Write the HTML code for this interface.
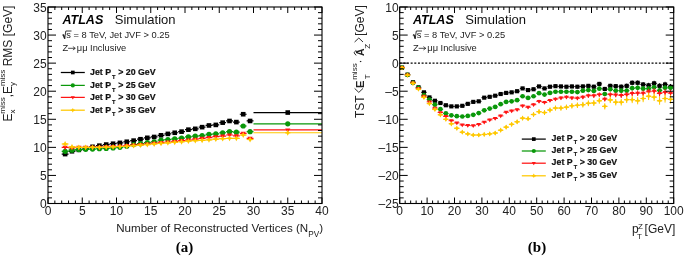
<!DOCTYPE html>
<html><head><meta charset="utf-8"><title>ATLAS plots</title>
<style>
html,body{margin:0;padding:0;background:#fff;width:685px;height:256px;overflow:hidden;}
svg{display:block;font-family:"Liberation Sans", sans-serif;will-change:transform;}
</style></head><body>
<svg width="685" height="256" viewBox="0 0 685 256">
<rect width="685" height="256" fill="#fff"/>
<path d="M61.70 154.09H68.55M68.55 151.29H75.40M75.40 149.88H82.25M82.25 148.76H89.10M89.10 146.80H95.95M95.95 145.67H102.80M102.80 144.55H109.65M109.65 143.71H116.50M116.50 142.87H123.35M123.35 141.74H130.20M130.20 140.62H137.05M137.05 139.22H143.90M143.90 137.81H150.75M150.75 136.97H157.60M157.60 135.29H164.45M164.45 133.88H171.30M171.30 132.76H178.15M178.15 131.64H185.00M185.00 129.67H191.85M191.85 128.83H198.70M198.70 127.15H205.55M205.55 125.46H212.40M212.40 124.90H219.25M219.25 122.65H226.10M226.10 120.97H232.95M232.95 122.09H239.80M239.80 114.23H246.65M246.65 120.97H253.50M253.50 112.55H322.00" stroke="#000000" stroke-width="1.2" fill="none"/>
<rect x="62.83" y="151.79" width="4.60" height="4.60" fill="#000000"/>
<rect x="69.67" y="148.99" width="4.60" height="4.60" fill="#000000"/>
<rect x="76.53" y="147.58" width="4.60" height="4.60" fill="#000000"/>
<rect x="83.38" y="146.46" width="4.60" height="4.60" fill="#000000"/>
<rect x="90.23" y="144.50" width="4.60" height="4.60" fill="#000000"/>
<rect x="97.08" y="143.37" width="4.60" height="4.60" fill="#000000"/>
<rect x="103.92" y="142.25" width="4.60" height="4.60" fill="#000000"/>
<rect x="110.78" y="141.41" width="4.60" height="4.60" fill="#000000"/>
<rect x="117.62" y="140.57" width="4.60" height="4.60" fill="#000000"/>
<rect x="124.47" y="139.44" width="4.60" height="4.60" fill="#000000"/>
<rect x="131.32" y="138.32" width="4.60" height="4.60" fill="#000000"/>
<rect x="138.18" y="136.92" width="4.60" height="4.60" fill="#000000"/>
<rect x="145.02" y="135.51" width="4.60" height="4.60" fill="#000000"/>
<rect x="151.88" y="134.67" width="4.60" height="4.60" fill="#000000"/>
<rect x="158.72" y="132.99" width="4.60" height="4.60" fill="#000000"/>
<rect x="165.57" y="131.58" width="4.60" height="4.60" fill="#000000"/>
<rect x="172.43" y="130.46" width="4.60" height="4.60" fill="#000000"/>
<rect x="179.27" y="129.34" width="4.60" height="4.60" fill="#000000"/>
<rect x="186.12" y="127.37" width="4.60" height="4.60" fill="#000000"/>
<rect x="192.97" y="126.53" width="4.60" height="4.60" fill="#000000"/>
<rect x="199.82" y="124.85" width="4.60" height="4.60" fill="#000000"/>
<rect x="206.67" y="123.16" width="4.60" height="4.60" fill="#000000"/>
<rect x="213.53" y="122.60" width="4.60" height="4.60" fill="#000000"/>
<rect x="220.37" y="120.35" width="4.60" height="4.60" fill="#000000"/>
<rect x="227.22" y="118.67" width="4.60" height="4.60" fill="#000000"/>
<rect x="234.07" y="119.79" width="4.60" height="4.60" fill="#000000"/>
<rect x="240.92" y="111.93" width="4.60" height="4.60" fill="#000000"/>
<rect x="247.78" y="118.67" width="4.60" height="4.60" fill="#000000"/>
<rect x="285.45" y="110.25" width="4.60" height="4.60" fill="#000000"/>
<path d="M61.70 151.29H68.55M68.55 150.16H75.40M75.40 149.60H82.25M82.25 149.32H89.10M89.10 149.04H95.95M95.95 148.76H102.80M102.80 148.48H109.65M109.65 147.92H116.50M116.50 147.36H123.35M123.35 146.23H130.20M130.20 144.55H137.05M137.05 143.71H143.90M143.90 142.59H150.75M150.75 141.74H157.60M157.60 140.06H164.45M164.45 139.50H171.30M171.30 138.94H178.15M178.15 138.09H185.00M185.00 136.97H191.85M191.85 136.13H198.70M198.70 135.57H205.55M205.55 134.44H212.40M212.40 133.88H219.25M219.25 132.76H226.10M226.10 131.64H232.95M232.95 132.20H239.80M239.80 126.02H246.65M246.65 131.64H253.50M253.50 123.78H322.00" stroke="#0a980a" stroke-width="1.2" fill="none"/>
<circle cx="65.12" cy="151.29" r="2.60" fill="#0a980a"/>
<circle cx="71.97" cy="150.16" r="2.60" fill="#0a980a"/>
<circle cx="78.83" cy="149.60" r="2.60" fill="#0a980a"/>
<circle cx="85.68" cy="149.32" r="2.60" fill="#0a980a"/>
<circle cx="92.53" cy="149.04" r="2.60" fill="#0a980a"/>
<circle cx="99.38" cy="148.76" r="2.60" fill="#0a980a"/>
<circle cx="106.22" cy="148.48" r="2.60" fill="#0a980a"/>
<circle cx="113.08" cy="147.92" r="2.60" fill="#0a980a"/>
<circle cx="119.92" cy="147.36" r="2.60" fill="#0a980a"/>
<circle cx="126.77" cy="146.23" r="2.60" fill="#0a980a"/>
<circle cx="133.62" cy="144.55" r="2.60" fill="#0a980a"/>
<circle cx="140.48" cy="143.71" r="2.60" fill="#0a980a"/>
<circle cx="147.32" cy="142.59" r="2.60" fill="#0a980a"/>
<circle cx="154.18" cy="141.74" r="2.60" fill="#0a980a"/>
<circle cx="161.02" cy="140.06" r="2.60" fill="#0a980a"/>
<circle cx="167.88" cy="139.50" r="2.60" fill="#0a980a"/>
<circle cx="174.73" cy="138.94" r="2.60" fill="#0a980a"/>
<circle cx="181.57" cy="138.09" r="2.60" fill="#0a980a"/>
<circle cx="188.42" cy="136.97" r="2.60" fill="#0a980a"/>
<circle cx="195.28" cy="136.13" r="2.60" fill="#0a980a"/>
<circle cx="202.12" cy="135.57" r="2.60" fill="#0a980a"/>
<circle cx="208.97" cy="134.44" r="2.60" fill="#0a980a"/>
<circle cx="215.83" cy="133.88" r="2.60" fill="#0a980a"/>
<circle cx="222.67" cy="132.76" r="2.60" fill="#0a980a"/>
<circle cx="229.53" cy="131.64" r="2.60" fill="#0a980a"/>
<circle cx="236.38" cy="132.20" r="2.60" fill="#0a980a"/>
<circle cx="243.22" cy="126.02" r="2.60" fill="#0a980a"/>
<circle cx="250.08" cy="131.64" r="2.60" fill="#0a980a"/>
<circle cx="287.75" cy="123.78" r="2.60" fill="#0a980a"/>
<path d="M61.70 147.36H68.55M68.55 147.92H75.40M75.40 147.36H82.25M82.25 147.36H89.10M89.10 147.36H95.95M95.95 147.36H102.80M102.80 146.80H109.65M109.65 146.51H116.50M116.50 146.23H123.35M123.35 145.67H130.20M130.20 145.11H137.05M137.05 144.55H143.90M143.90 143.99H150.75M150.75 143.43H157.60M157.60 142.59H164.45M164.45 142.02H171.30M171.30 141.46H178.15M178.15 140.62H185.00M185.00 140.06H191.85M191.85 139.22H198.70M198.70 138.37H205.55M205.55 137.53H212.40M212.40 136.69H219.25M219.25 136.13H226.10M226.10 135.01H232.95M232.95 135.85H239.80M239.80 133.32H246.65M246.65 138.37H253.50M253.50 129.95H322.00" stroke="#ff1414" stroke-width="1.2" fill="none"/>
<path d="M62.52 145.80L67.72 145.80L65.12 149.96Z" fill="#ff1414"/>
<path d="M69.38 146.36L74.57 146.36L71.97 150.52Z" fill="#ff1414"/>
<path d="M76.23 145.80L81.42 145.80L78.83 149.96Z" fill="#ff1414"/>
<path d="M83.08 145.80L88.28 145.80L85.68 149.96Z" fill="#ff1414"/>
<path d="M89.93 145.80L95.12 145.80L92.53 149.96Z" fill="#ff1414"/>
<path d="M96.78 145.80L101.97 145.80L99.38 149.96Z" fill="#ff1414"/>
<path d="M103.62 145.24L108.82 145.24L106.22 149.40Z" fill="#ff1414"/>
<path d="M110.48 144.95L115.67 144.95L113.08 149.11Z" fill="#ff1414"/>
<path d="M117.33 144.67L122.52 144.67L119.92 148.83Z" fill="#ff1414"/>
<path d="M124.17 144.11L129.38 144.11L126.77 148.27Z" fill="#ff1414"/>
<path d="M131.03 143.55L136.22 143.55L133.62 147.71Z" fill="#ff1414"/>
<path d="M137.88 142.99L143.08 142.99L140.48 147.15Z" fill="#ff1414"/>
<path d="M144.72 142.43L149.92 142.43L147.32 146.59Z" fill="#ff1414"/>
<path d="M151.58 141.87L156.78 141.87L154.18 146.03Z" fill="#ff1414"/>
<path d="M158.42 141.03L163.62 141.03L161.02 145.19Z" fill="#ff1414"/>
<path d="M165.28 140.46L170.47 140.46L167.88 144.62Z" fill="#ff1414"/>
<path d="M172.13 139.90L177.33 139.90L174.73 144.06Z" fill="#ff1414"/>
<path d="M178.97 139.06L184.17 139.06L181.57 143.22Z" fill="#ff1414"/>
<path d="M185.82 138.50L191.02 138.50L188.42 142.66Z" fill="#ff1414"/>
<path d="M192.68 137.66L197.88 137.66L195.28 141.82Z" fill="#ff1414"/>
<path d="M199.53 136.81L204.72 136.81L202.12 140.97Z" fill="#ff1414"/>
<path d="M206.38 135.97L211.57 135.97L208.97 140.13Z" fill="#ff1414"/>
<path d="M213.23 135.13L218.43 135.13L215.83 139.29Z" fill="#ff1414"/>
<path d="M220.07 134.57L225.27 134.57L222.67 138.73Z" fill="#ff1414"/>
<path d="M226.93 133.45L232.12 133.45L229.53 137.61Z" fill="#ff1414"/>
<path d="M233.78 134.29L238.97 134.29L236.38 138.45Z" fill="#ff1414"/>
<path d="M240.62 131.76L245.82 131.76L243.22 135.92Z" fill="#ff1414"/>
<path d="M247.48 136.81L252.68 136.81L250.08 140.97Z" fill="#ff1414"/>
<path d="M285.15 128.39L290.35 128.39L287.75 132.55Z" fill="#ff1414"/>
<path d="M61.70 143.99H68.55M68.55 146.80H75.40M75.40 147.36H82.25M82.25 147.36H89.10M89.10 147.36H95.95M95.95 147.36H102.80M102.80 147.08H109.65M109.65 146.80H116.50M116.50 146.51H123.35M123.35 146.23H130.20M130.20 145.67H137.05M137.05 145.11H143.90M143.90 144.55H150.75M150.75 143.99H157.60M157.60 143.43H164.45M164.45 142.87H171.30M171.30 142.30H178.15M178.15 141.74H185.00M185.00 141.18H191.85M191.85 140.62H198.70M198.70 140.34H205.55M205.55 139.78H212.40M212.40 139.22H219.25M219.25 138.66H226.10M226.10 138.37H232.95M232.95 138.37H239.80M239.80 135.01H246.65M246.65 139.50H253.50M253.50 132.76H322.00" stroke="#ffc800" stroke-width="1.2" fill="none"/>
<path d="M65.12 141.09L66.72 143.99L65.12 146.89L63.52 143.99Z" fill="#ffc800"/><path d="M62.52 143.99H67.72" stroke="#ffc800" stroke-width="1.3"/>
<path d="M71.97 143.90L73.57 146.80L71.97 149.70L70.38 146.80Z" fill="#ffc800"/><path d="M69.38 146.80H74.57" stroke="#ffc800" stroke-width="1.3"/>
<path d="M78.83 144.46L80.42 147.36L78.83 150.26L77.23 147.36Z" fill="#ffc800"/><path d="M76.23 147.36H81.42" stroke="#ffc800" stroke-width="1.3"/>
<path d="M85.68 144.46L87.28 147.36L85.68 150.26L84.08 147.36Z" fill="#ffc800"/><path d="M83.08 147.36H88.28" stroke="#ffc800" stroke-width="1.3"/>
<path d="M92.53 144.46L94.12 147.36L92.53 150.26L90.93 147.36Z" fill="#ffc800"/><path d="M89.93 147.36H95.12" stroke="#ffc800" stroke-width="1.3"/>
<path d="M99.38 144.46L100.97 147.36L99.38 150.26L97.78 147.36Z" fill="#ffc800"/><path d="M96.78 147.36H101.97" stroke="#ffc800" stroke-width="1.3"/>
<path d="M106.22 144.18L107.82 147.08L106.22 149.98L104.62 147.08Z" fill="#ffc800"/><path d="M103.62 147.08H108.82" stroke="#ffc800" stroke-width="1.3"/>
<path d="M113.08 143.90L114.67 146.80L113.08 149.70L111.48 146.80Z" fill="#ffc800"/><path d="M110.48 146.80H115.67" stroke="#ffc800" stroke-width="1.3"/>
<path d="M119.92 143.61L121.52 146.51L119.92 149.41L118.33 146.51Z" fill="#ffc800"/><path d="M117.33 146.51H122.52" stroke="#ffc800" stroke-width="1.3"/>
<path d="M126.77 143.33L128.38 146.23L126.77 149.13L125.17 146.23Z" fill="#ffc800"/><path d="M124.17 146.23H129.38" stroke="#ffc800" stroke-width="1.3"/>
<path d="M133.62 142.77L135.22 145.67L133.62 148.57L132.03 145.67Z" fill="#ffc800"/><path d="M131.03 145.67H136.22" stroke="#ffc800" stroke-width="1.3"/>
<path d="M140.48 142.21L142.08 145.11L140.48 148.01L138.88 145.11Z" fill="#ffc800"/><path d="M137.88 145.11H143.08" stroke="#ffc800" stroke-width="1.3"/>
<path d="M147.32 141.65L148.92 144.55L147.32 147.45L145.72 144.55Z" fill="#ffc800"/><path d="M144.72 144.55H149.92" stroke="#ffc800" stroke-width="1.3"/>
<path d="M154.18 141.09L155.78 143.99L154.18 146.89L152.58 143.99Z" fill="#ffc800"/><path d="M151.58 143.99H156.78" stroke="#ffc800" stroke-width="1.3"/>
<path d="M161.02 140.53L162.62 143.43L161.02 146.33L159.42 143.43Z" fill="#ffc800"/><path d="M158.42 143.43H163.62" stroke="#ffc800" stroke-width="1.3"/>
<path d="M167.88 139.97L169.47 142.87L167.88 145.77L166.28 142.87Z" fill="#ffc800"/><path d="M165.28 142.87H170.47" stroke="#ffc800" stroke-width="1.3"/>
<path d="M174.73 139.40L176.33 142.30L174.73 145.20L173.13 142.30Z" fill="#ffc800"/><path d="M172.13 142.30H177.33" stroke="#ffc800" stroke-width="1.3"/>
<path d="M181.57 138.84L183.17 141.74L181.57 144.64L179.97 141.74Z" fill="#ffc800"/><path d="M178.97 141.74H184.17" stroke="#ffc800" stroke-width="1.3"/>
<path d="M188.42 138.28L190.02 141.18L188.42 144.08L186.82 141.18Z" fill="#ffc800"/><path d="M185.82 141.18H191.02" stroke="#ffc800" stroke-width="1.3"/>
<path d="M195.28 137.72L196.88 140.62L195.28 143.52L193.68 140.62Z" fill="#ffc800"/><path d="M192.68 140.62H197.88" stroke="#ffc800" stroke-width="1.3"/>
<path d="M202.12 137.44L203.72 140.34L202.12 143.24L200.53 140.34Z" fill="#ffc800"/><path d="M199.53 140.34H204.72" stroke="#ffc800" stroke-width="1.3"/>
<path d="M208.97 136.88L210.57 139.78L208.97 142.68L207.38 139.78Z" fill="#ffc800"/><path d="M206.38 139.78H211.57" stroke="#ffc800" stroke-width="1.3"/>
<path d="M215.83 136.32L217.43 139.22L215.83 142.12L214.23 139.22Z" fill="#ffc800"/><path d="M213.23 139.22H218.43" stroke="#ffc800" stroke-width="1.3"/>
<path d="M222.67 135.75L224.27 138.66L222.67 141.56L221.07 138.66Z" fill="#ffc800"/><path d="M220.07 138.66H225.27" stroke="#ffc800" stroke-width="1.3"/>
<path d="M229.53 135.47L231.12 138.37L229.53 141.27L227.93 138.37Z" fill="#ffc800"/><path d="M226.93 138.37H232.12" stroke="#ffc800" stroke-width="1.3"/>
<path d="M236.38 135.47L237.97 138.37L236.38 141.27L234.78 138.37Z" fill="#ffc800"/><path d="M233.78 138.37H238.97" stroke="#ffc800" stroke-width="1.3"/>
<path d="M243.22 132.11L244.82 135.01L243.22 137.91L241.62 135.01Z" fill="#ffc800"/><path d="M240.62 135.01H245.82" stroke="#ffc800" stroke-width="1.3"/>
<path d="M250.08 136.60L251.68 139.50L250.08 142.40L248.48 139.50Z" fill="#ffc800"/><path d="M247.48 139.50H252.68" stroke="#ffc800" stroke-width="1.3"/>
<path d="M287.75 129.86L289.35 132.76L287.75 135.66L286.15 132.76Z" fill="#ffc800"/><path d="M285.15 132.76H290.35" stroke="#ffc800" stroke-width="1.3"/>
<path d="M399.70 63.14H673.70" stroke="#000" stroke-width="1.2" stroke-dasharray="2 1.65"/>
<path d="M399.29 67.63H404.77M402.03 66.51V68.76M404.77 74.65H410.25M407.51 73.53V75.78M410.25 82.23H415.73M412.99 81.10V83.36M415.73 87.28H421.21M418.47 86.15V88.42M421.21 92.34H426.69M423.95 91.20V93.47M426.69 97.39H432.17M429.43 96.25V98.53M432.17 100.76H437.65M434.91 99.61V101.91M437.65 103.00H443.13M440.39 101.84V104.16M443.13 105.25H448.61M445.87 104.08V106.42M448.61 106.37H454.09M451.35 105.19V107.56M454.09 106.37H459.57M456.83 105.18V107.57M459.57 105.81H465.05M462.31 104.60V107.02M465.05 103.85H470.53M467.79 102.62V105.07M470.53 101.88H476.01M473.27 100.64V103.13M476.01 101.32H481.49M478.75 100.06V102.58M481.49 97.67H486.97M484.23 96.39V98.95M486.97 96.83H492.45M489.71 95.52V98.13M492.45 95.71H497.93M495.19 94.38V97.03M497.93 94.02H503.41M500.67 92.67V95.37M503.41 92.90H508.89M506.15 91.52V94.28M508.89 92.34H514.37M511.63 90.93V93.74M514.37 91.21H519.85M517.11 89.78V92.65M519.85 88.41H525.33M522.59 86.95V89.87M525.33 90.09H530.81M528.07 88.60V91.58M530.81 89.25H536.29M533.55 87.72V90.77M536.29 86.44H541.77M539.03 84.88V88.00M541.77 88.41H547.25M544.51 86.81V90.00M547.25 86.72H552.73M549.99 85.09V88.35M552.73 86.16H558.21M555.47 84.49V87.83M558.21 86.44H563.69M560.95 84.74V88.15M563.69 86.72H569.17M566.43 84.98V88.47M569.17 86.44H574.65M571.91 84.65V88.23M574.65 86.72H580.13M577.39 84.89V88.55M580.13 86.44H585.61M582.87 84.57V88.32M585.61 85.88H591.09M588.35 83.96V87.80M591.09 86.72H596.57M593.83 84.75V88.69M596.57 83.92H602.05M599.31 81.90V85.93M602.05 88.97H607.53M604.79 86.90V91.04M607.53 85.88H613.01M610.27 83.76V88.00M613.01 86.16H618.49M615.75 83.99V88.33M618.49 86.72H623.97M621.23 84.50V88.95M623.97 85.88H629.45M626.71 83.60V88.16M629.45 82.79H634.93M632.19 80.46V85.13M634.93 82.79H640.41M637.67 80.40V85.19M640.41 84.48H645.89M643.15 82.02V86.93M645.89 85.32H651.37M648.63 82.81V87.83M651.37 83.35H656.85M654.11 80.78V85.93M656.85 85.88H662.33M659.59 83.24V88.52M662.33 84.48H667.81M665.07 81.77V87.18M667.81 86.72H673.29M670.55 83.95V89.49" stroke="#000000" stroke-width="1.0" fill="none"/>
<rect x="399.96" y="65.56" width="4.14" height="4.14" fill="#000000"/>
<rect x="405.44" y="72.58" width="4.14" height="4.14" fill="#000000"/>
<rect x="410.92" y="80.16" width="4.14" height="4.14" fill="#000000"/>
<rect x="416.40" y="85.21" width="4.14" height="4.14" fill="#000000"/>
<rect x="421.88" y="90.27" width="4.14" height="4.14" fill="#000000"/>
<rect x="427.36" y="95.32" width="4.14" height="4.14" fill="#000000"/>
<rect x="432.84" y="98.69" width="4.14" height="4.14" fill="#000000"/>
<rect x="438.32" y="100.93" width="4.14" height="4.14" fill="#000000"/>
<rect x="443.80" y="103.18" width="4.14" height="4.14" fill="#000000"/>
<rect x="449.28" y="104.30" width="4.14" height="4.14" fill="#000000"/>
<rect x="454.76" y="104.30" width="4.14" height="4.14" fill="#000000"/>
<rect x="460.24" y="103.74" width="4.14" height="4.14" fill="#000000"/>
<rect x="465.72" y="101.78" width="4.14" height="4.14" fill="#000000"/>
<rect x="471.20" y="99.81" width="4.14" height="4.14" fill="#000000"/>
<rect x="476.68" y="99.25" width="4.14" height="4.14" fill="#000000"/>
<rect x="482.16" y="95.60" width="4.14" height="4.14" fill="#000000"/>
<rect x="487.64" y="94.76" width="4.14" height="4.14" fill="#000000"/>
<rect x="493.12" y="93.64" width="4.14" height="4.14" fill="#000000"/>
<rect x="498.60" y="91.95" width="4.14" height="4.14" fill="#000000"/>
<rect x="504.08" y="90.83" width="4.14" height="4.14" fill="#000000"/>
<rect x="509.56" y="90.27" width="4.14" height="4.14" fill="#000000"/>
<rect x="515.04" y="89.14" width="4.14" height="4.14" fill="#000000"/>
<rect x="520.52" y="86.34" width="4.14" height="4.14" fill="#000000"/>
<rect x="526.00" y="88.02" width="4.14" height="4.14" fill="#000000"/>
<rect x="531.48" y="87.18" width="4.14" height="4.14" fill="#000000"/>
<rect x="536.96" y="84.37" width="4.14" height="4.14" fill="#000000"/>
<rect x="542.44" y="86.34" width="4.14" height="4.14" fill="#000000"/>
<rect x="547.92" y="84.65" width="4.14" height="4.14" fill="#000000"/>
<rect x="553.40" y="84.09" width="4.14" height="4.14" fill="#000000"/>
<rect x="558.88" y="84.37" width="4.14" height="4.14" fill="#000000"/>
<rect x="564.36" y="84.65" width="4.14" height="4.14" fill="#000000"/>
<rect x="569.84" y="84.37" width="4.14" height="4.14" fill="#000000"/>
<rect x="575.32" y="84.65" width="4.14" height="4.14" fill="#000000"/>
<rect x="580.80" y="84.37" width="4.14" height="4.14" fill="#000000"/>
<rect x="586.28" y="83.81" width="4.14" height="4.14" fill="#000000"/>
<rect x="591.76" y="84.65" width="4.14" height="4.14" fill="#000000"/>
<rect x="597.24" y="81.85" width="4.14" height="4.14" fill="#000000"/>
<rect x="602.72" y="86.90" width="4.14" height="4.14" fill="#000000"/>
<rect x="608.20" y="83.81" width="4.14" height="4.14" fill="#000000"/>
<rect x="613.68" y="84.09" width="4.14" height="4.14" fill="#000000"/>
<rect x="619.16" y="84.65" width="4.14" height="4.14" fill="#000000"/>
<rect x="624.64" y="83.81" width="4.14" height="4.14" fill="#000000"/>
<rect x="630.12" y="80.72" width="4.14" height="4.14" fill="#000000"/>
<rect x="635.60" y="80.72" width="4.14" height="4.14" fill="#000000"/>
<rect x="641.08" y="82.41" width="4.14" height="4.14" fill="#000000"/>
<rect x="646.56" y="83.25" width="4.14" height="4.14" fill="#000000"/>
<rect x="652.04" y="81.28" width="4.14" height="4.14" fill="#000000"/>
<rect x="657.52" y="83.81" width="4.14" height="4.14" fill="#000000"/>
<rect x="663.00" y="82.41" width="4.14" height="4.14" fill="#000000"/>
<rect x="668.48" y="84.65" width="4.14" height="4.14" fill="#000000"/>
<path d="M399.29 67.63H404.77M402.03 66.51V68.76M404.77 74.93H410.25M407.51 73.81V76.06M410.25 82.79H415.73M412.99 81.67V83.92M415.73 87.85H421.21M418.47 86.71V88.98M421.21 95.14H426.69M423.95 94.01V96.28M426.69 99.64H432.17M429.43 98.49V100.78M432.17 104.69H437.65M434.91 103.54V105.84M437.65 109.18H443.13M440.39 108.02V110.34M443.13 113.39H448.61M445.87 112.22V114.56M448.61 115.36H454.09M451.35 114.17V116.54M454.09 116.20H459.57M456.83 115.00V117.39M459.57 116.48H465.05M462.31 115.27V117.69M465.05 115.92H470.53M467.79 114.69V117.14M470.53 114.79H476.01M473.27 113.55V116.04M476.01 113.11H481.49M478.75 111.85V114.37M481.49 110.30H486.97M484.23 109.02V111.59M486.97 108.62H492.45M489.71 107.31V109.92M492.45 106.93H497.93M495.19 105.61V108.26M497.93 104.13H503.41M500.67 102.78V105.48M503.41 101.88H508.89M506.15 100.50V103.26M508.89 101.32H514.37M511.63 99.92V102.72M514.37 100.20H519.85M517.11 98.77V101.63M519.85 96.27H525.33M522.59 94.81V97.73M525.33 97.95H530.81M528.07 96.46V99.44M530.81 96.27H536.29M533.55 94.74V97.79M536.29 93.18H541.77M539.03 91.62V94.74M541.77 94.58H547.25M544.51 92.99V96.18M547.25 92.90H552.73M549.99 91.27V94.53M552.73 91.78H558.21M555.47 90.11V93.44M558.21 91.78H563.69M560.95 90.07V93.48M563.69 91.78H569.17M566.43 90.03V93.52M569.17 91.78H574.65M571.91 89.99V93.56M574.65 92.06H580.13M577.39 90.23V93.89M580.13 90.65H585.61M582.87 88.78V92.53M585.61 90.09H591.09M588.35 88.17V92.01M591.09 90.93H596.57M593.83 88.97V92.90M596.57 88.69H602.05M599.31 86.67V90.70M602.05 94.02H607.53M604.79 91.95V96.09M607.53 89.25H613.01M610.27 87.13V91.37M613.01 90.65H618.49M615.75 88.48V92.82M618.49 90.65H623.97M621.23 88.43V92.88M623.97 90.65H629.45M626.71 88.37V92.93M629.45 88.13H634.93M632.19 85.79V90.46M634.93 87.85H640.41M637.67 85.45V90.24M640.41 88.69H645.89M643.15 86.24V91.14M645.89 88.69H651.37M648.63 86.17V91.20M651.37 87.28H656.85M654.11 84.71V89.86M656.85 90.37H662.33M659.59 87.73V93.01M662.33 87.85H667.81M665.07 85.14V90.55M667.81 87.85H673.29M670.55 85.08V90.61" stroke="#0a980a" stroke-width="1.0" fill="none"/>
<circle cx="402.03" cy="67.63" r="2.34" fill="#0a980a"/>
<circle cx="407.51" cy="74.93" r="2.34" fill="#0a980a"/>
<circle cx="412.99" cy="82.79" r="2.34" fill="#0a980a"/>
<circle cx="418.47" cy="87.85" r="2.34" fill="#0a980a"/>
<circle cx="423.95" cy="95.14" r="2.34" fill="#0a980a"/>
<circle cx="429.43" cy="99.64" r="2.34" fill="#0a980a"/>
<circle cx="434.91" cy="104.69" r="2.34" fill="#0a980a"/>
<circle cx="440.39" cy="109.18" r="2.34" fill="#0a980a"/>
<circle cx="445.87" cy="113.39" r="2.34" fill="#0a980a"/>
<circle cx="451.35" cy="115.36" r="2.34" fill="#0a980a"/>
<circle cx="456.83" cy="116.20" r="2.34" fill="#0a980a"/>
<circle cx="462.31" cy="116.48" r="2.34" fill="#0a980a"/>
<circle cx="467.79" cy="115.92" r="2.34" fill="#0a980a"/>
<circle cx="473.27" cy="114.79" r="2.34" fill="#0a980a"/>
<circle cx="478.75" cy="113.11" r="2.34" fill="#0a980a"/>
<circle cx="484.23" cy="110.30" r="2.34" fill="#0a980a"/>
<circle cx="489.71" cy="108.62" r="2.34" fill="#0a980a"/>
<circle cx="495.19" cy="106.93" r="2.34" fill="#0a980a"/>
<circle cx="500.67" cy="104.13" r="2.34" fill="#0a980a"/>
<circle cx="506.15" cy="101.88" r="2.34" fill="#0a980a"/>
<circle cx="511.63" cy="101.32" r="2.34" fill="#0a980a"/>
<circle cx="517.11" cy="100.20" r="2.34" fill="#0a980a"/>
<circle cx="522.59" cy="96.27" r="2.34" fill="#0a980a"/>
<circle cx="528.07" cy="97.95" r="2.34" fill="#0a980a"/>
<circle cx="533.55" cy="96.27" r="2.34" fill="#0a980a"/>
<circle cx="539.03" cy="93.18" r="2.34" fill="#0a980a"/>
<circle cx="544.51" cy="94.58" r="2.34" fill="#0a980a"/>
<circle cx="549.99" cy="92.90" r="2.34" fill="#0a980a"/>
<circle cx="555.47" cy="91.78" r="2.34" fill="#0a980a"/>
<circle cx="560.95" cy="91.78" r="2.34" fill="#0a980a"/>
<circle cx="566.43" cy="91.78" r="2.34" fill="#0a980a"/>
<circle cx="571.91" cy="91.78" r="2.34" fill="#0a980a"/>
<circle cx="577.39" cy="92.06" r="2.34" fill="#0a980a"/>
<circle cx="582.87" cy="90.65" r="2.34" fill="#0a980a"/>
<circle cx="588.35" cy="90.09" r="2.34" fill="#0a980a"/>
<circle cx="593.83" cy="90.93" r="2.34" fill="#0a980a"/>
<circle cx="599.31" cy="88.69" r="2.34" fill="#0a980a"/>
<circle cx="604.79" cy="94.02" r="2.34" fill="#0a980a"/>
<circle cx="610.27" cy="89.25" r="2.34" fill="#0a980a"/>
<circle cx="615.75" cy="90.65" r="2.34" fill="#0a980a"/>
<circle cx="621.23" cy="90.65" r="2.34" fill="#0a980a"/>
<circle cx="626.71" cy="90.65" r="2.34" fill="#0a980a"/>
<circle cx="632.19" cy="88.13" r="2.34" fill="#0a980a"/>
<circle cx="637.67" cy="87.85" r="2.34" fill="#0a980a"/>
<circle cx="643.15" cy="88.69" r="2.34" fill="#0a980a"/>
<circle cx="648.63" cy="88.69" r="2.34" fill="#0a980a"/>
<circle cx="654.11" cy="87.28" r="2.34" fill="#0a980a"/>
<circle cx="659.59" cy="90.37" r="2.34" fill="#0a980a"/>
<circle cx="665.07" cy="87.85" r="2.34" fill="#0a980a"/>
<circle cx="670.55" cy="87.85" r="2.34" fill="#0a980a"/>
<path d="M399.29 67.63H404.77M402.03 66.79V68.48M404.77 74.93H410.25M407.51 74.09V75.78M410.25 82.79H415.73M412.99 81.94V83.64M415.73 88.41H421.21M418.47 87.55V89.26M421.21 96.27H426.69M423.95 95.41V97.13M426.69 101.88H432.17M429.43 101.01V102.75M432.17 108.06H437.65M434.91 107.17V108.94M437.65 112.55H443.13M440.39 111.65V113.45M443.13 116.48H448.61M445.87 115.56V117.39M448.61 120.69H454.09M451.35 119.76V121.62M454.09 122.94H459.57M456.83 121.98V123.89M459.57 124.90H465.05M462.31 123.93V125.87M465.05 125.46H470.53M467.79 124.46V126.46M470.53 125.74H476.01M473.27 124.72V126.77M476.01 124.34H481.49M478.75 123.29V125.39M481.49 122.09H486.97M484.23 121.01V123.18M486.97 119.85H492.45M489.71 118.73V120.96M492.45 118.44H497.93M495.19 117.29V119.59M497.93 115.92H503.41M500.67 114.73V117.10M503.41 112.27H508.89M506.15 111.04V113.49M508.89 110.86H514.37M511.63 109.60V112.13M514.37 109.74H519.85M517.11 108.44V111.05M519.85 105.81H525.33M522.59 104.46V107.16M525.33 107.22H530.81M528.07 105.82V108.61M530.81 104.69H536.29M533.55 103.24V106.13M536.29 101.32H541.77M539.03 99.82V102.82M541.77 102.44H547.25M544.51 100.90V103.99M547.25 100.48H552.73M549.99 98.88V102.08M552.73 99.07H558.21M555.47 97.42V100.73M558.21 97.95H563.69M560.95 96.23V99.67M563.69 97.11H569.17M566.43 95.33V98.89M569.17 97.95H574.65M571.91 96.11V99.79M574.65 98.23H580.13M577.39 96.33V100.14M580.13 97.11H585.61M582.87 95.14V99.08M585.61 95.71H591.09M588.35 93.67V97.75M591.09 95.71H596.57M593.83 93.60V97.82M596.57 94.58H602.05M599.31 92.40V96.77M602.05 99.07H607.53M604.79 96.82V101.33M607.53 94.58H613.01M610.27 92.25V96.92M613.01 94.86H618.49M615.75 92.45V97.28M618.49 95.42H623.97M621.23 92.93V97.92M623.97 94.58H629.45M626.71 92.01V97.16M629.45 93.46H634.93M632.19 90.80V96.12M634.93 93.18H640.41M637.67 90.43V95.93M640.41 93.18H645.89M643.15 90.34V96.02M645.89 91.78H651.37M648.63 88.85V94.70M651.37 91.21H656.85M654.11 88.19V94.23M656.85 93.46H662.33M659.59 90.34V96.58M662.33 92.34H667.81M665.07 89.13V95.55M667.81 93.18H673.29M670.55 89.87V96.49" stroke="#ff1414" stroke-width="1.0" fill="none"/>
<path d="M399.69 66.23L404.37 66.23L402.03 69.97Z" fill="#ff1414"/>
<path d="M405.17 73.53L409.85 73.53L407.51 77.27Z" fill="#ff1414"/>
<path d="M410.65 81.39L415.33 81.39L412.99 85.13Z" fill="#ff1414"/>
<path d="M416.13 87.00L420.81 87.00L418.47 90.75Z" fill="#ff1414"/>
<path d="M421.61 94.86L426.29 94.86L423.95 98.61Z" fill="#ff1414"/>
<path d="M427.09 100.48L431.77 100.48L429.43 104.22Z" fill="#ff1414"/>
<path d="M432.57 106.65L437.25 106.65L434.91 110.40Z" fill="#ff1414"/>
<path d="M438.05 111.14L442.73 111.14L440.39 114.89Z" fill="#ff1414"/>
<path d="M443.53 115.07L448.21 115.07L445.87 118.82Z" fill="#ff1414"/>
<path d="M449.01 119.29L453.69 119.29L451.35 123.03Z" fill="#ff1414"/>
<path d="M454.49 121.53L459.17 121.53L456.83 125.28Z" fill="#ff1414"/>
<path d="M459.97 123.50L464.65 123.50L462.31 127.24Z" fill="#ff1414"/>
<path d="M465.45 124.06L470.13 124.06L467.79 127.80Z" fill="#ff1414"/>
<path d="M470.93 124.34L475.61 124.34L473.27 128.08Z" fill="#ff1414"/>
<path d="M476.41 122.93L481.09 122.93L478.75 126.68Z" fill="#ff1414"/>
<path d="M481.89 120.69L486.57 120.69L484.23 124.43Z" fill="#ff1414"/>
<path d="M487.37 118.44L492.05 118.44L489.71 122.19Z" fill="#ff1414"/>
<path d="M492.85 117.04L497.53 117.04L495.19 120.78Z" fill="#ff1414"/>
<path d="M498.33 114.51L503.01 114.51L500.67 118.26Z" fill="#ff1414"/>
<path d="M503.81 110.86L508.49 110.86L506.15 114.61Z" fill="#ff1414"/>
<path d="M509.29 109.46L513.97 109.46L511.63 113.20Z" fill="#ff1414"/>
<path d="M514.77 108.34L519.45 108.34L517.11 112.08Z" fill="#ff1414"/>
<path d="M520.25 104.41L524.93 104.41L522.59 108.15Z" fill="#ff1414"/>
<path d="M525.73 105.81L530.41 105.81L528.07 109.56Z" fill="#ff1414"/>
<path d="M531.21 103.28L535.89 103.28L533.55 107.03Z" fill="#ff1414"/>
<path d="M536.69 99.92L541.37 99.92L539.03 103.66Z" fill="#ff1414"/>
<path d="M542.17 101.04L546.85 101.04L544.51 104.78Z" fill="#ff1414"/>
<path d="M547.65 99.07L552.33 99.07L549.99 102.82Z" fill="#ff1414"/>
<path d="M553.13 97.67L557.81 97.67L555.47 101.41Z" fill="#ff1414"/>
<path d="M558.61 96.55L563.29 96.55L560.95 100.29Z" fill="#ff1414"/>
<path d="M564.09 95.71L568.77 95.71L566.43 99.45Z" fill="#ff1414"/>
<path d="M569.57 96.55L574.25 96.55L571.91 100.29Z" fill="#ff1414"/>
<path d="M575.05 96.83L579.73 96.83L577.39 100.57Z" fill="#ff1414"/>
<path d="M580.53 95.71L585.21 95.71L582.87 99.45Z" fill="#ff1414"/>
<path d="M586.01 94.30L590.69 94.30L588.35 98.05Z" fill="#ff1414"/>
<path d="M591.49 94.30L596.17 94.30L593.83 98.05Z" fill="#ff1414"/>
<path d="M596.97 93.18L601.65 93.18L599.31 96.92Z" fill="#ff1414"/>
<path d="M602.45 97.67L607.13 97.67L604.79 101.41Z" fill="#ff1414"/>
<path d="M607.93 93.18L612.61 93.18L610.27 96.92Z" fill="#ff1414"/>
<path d="M613.41 93.46L618.09 93.46L615.75 97.20Z" fill="#ff1414"/>
<path d="M618.89 94.02L623.57 94.02L621.23 97.77Z" fill="#ff1414"/>
<path d="M624.37 93.18L629.05 93.18L626.71 96.92Z" fill="#ff1414"/>
<path d="M629.85 92.06L634.53 92.06L632.19 95.80Z" fill="#ff1414"/>
<path d="M635.33 91.78L640.01 91.78L637.67 95.52Z" fill="#ff1414"/>
<path d="M640.81 91.78L645.49 91.78L643.15 95.52Z" fill="#ff1414"/>
<path d="M646.29 90.37L650.97 90.37L648.63 94.12Z" fill="#ff1414"/>
<path d="M651.77 89.81L656.45 89.81L654.11 93.55Z" fill="#ff1414"/>
<path d="M657.25 92.06L661.93 92.06L659.59 95.80Z" fill="#ff1414"/>
<path d="M662.73 90.93L667.41 90.93L665.07 94.68Z" fill="#ff1414"/>
<path d="M668.21 91.78L672.89 91.78L670.55 95.52Z" fill="#ff1414"/>
<path d="M399.29 67.92H404.77M402.03 66.23V69.60M404.77 75.21H410.25M407.51 73.53V76.90M410.25 83.35H415.73M412.99 81.66V85.04M415.73 89.25H421.21M418.47 87.55V90.95M421.21 97.39H426.69M423.95 95.69V99.09M426.69 103.57H432.17M429.43 101.85V105.28M432.17 109.46H437.65M434.91 107.73V111.19M437.65 114.79H443.13M440.39 113.05V116.53M443.13 119.29H448.61M445.87 117.53V121.04M448.61 123.78H454.09M451.35 122.00V125.55M454.09 128.27H459.57M456.83 126.47V130.06M459.57 132.20H465.05M462.31 130.38V134.01M465.05 133.88H470.53M467.79 132.04V135.72M470.53 135.01H476.01M473.27 133.14V136.87M476.01 135.01H481.49M478.75 133.11V136.90M481.49 134.44H486.97M484.23 132.52V136.37M486.97 133.88H492.45M489.71 131.93V135.84M492.45 133.04H497.93M495.19 131.05V135.03M497.93 130.23H503.41M500.67 128.21V132.26M503.41 127.15H508.89M506.15 125.08V129.21M508.89 124.34H514.37M511.63 122.23V126.44M514.37 121.81H519.85M517.11 119.66V123.96M519.85 118.16H525.33M522.59 115.97V120.36M525.33 118.72H530.81M528.07 116.49V120.96M530.81 114.51H536.29M533.55 112.23V116.80M536.29 111.71H541.77M539.03 109.37V114.04M541.77 112.55H547.25M544.51 110.16V114.94M547.25 110.02H552.73M549.99 107.58V112.47M552.73 108.06H558.21M555.47 105.56V110.56M558.21 108.06H563.69M560.95 105.50V110.62M563.69 107.22H569.17M566.43 104.60V109.83M569.17 105.81H574.65M571.91 103.13V108.49M574.65 105.25H580.13M577.39 102.50V108.00M580.13 104.69H585.61M582.87 101.88V107.50M585.61 103.28H591.09M588.35 100.40V106.17M591.09 103.00H596.57M593.83 100.05V105.96M596.57 100.76H602.05M599.31 97.73V103.78M602.05 106.37H607.53M604.79 103.27V109.47M607.53 99.92H613.01M610.27 96.74V103.09M613.01 102.16H618.49M615.75 98.91V105.42M618.49 102.16H623.97M621.23 98.83V105.50M623.97 99.64H629.45M626.71 96.22V103.05M629.45 99.64H634.93M632.19 96.13V103.14M634.93 100.76H640.41M637.67 97.17V104.35M640.41 98.51H645.89M643.15 94.83V102.19M645.89 96.27H651.37M648.63 92.50V100.04M651.37 97.11H656.85M654.11 93.25V100.97M656.85 100.76H662.33M659.59 96.80V104.72M662.33 98.51H667.81M665.07 94.46V102.57M667.81 99.35H673.29M670.55 95.20V103.51" stroke="#ffc800" stroke-width="1.0" fill="none"/>
<path d="M402.03 65.31L403.47 67.92L402.03 70.53L400.59 67.92Z" fill="#ffc800"/><path d="M399.69 67.92H404.37" stroke="#ffc800" stroke-width="1.3"/>
<path d="M407.51 72.60L408.95 75.21L407.51 77.82L406.07 75.21Z" fill="#ffc800"/><path d="M405.17 75.21H409.85" stroke="#ffc800" stroke-width="1.3"/>
<path d="M412.99 80.74L414.43 83.35L412.99 85.96L411.55 83.35Z" fill="#ffc800"/><path d="M410.65 83.35H415.33" stroke="#ffc800" stroke-width="1.3"/>
<path d="M418.47 86.64L419.91 89.25L418.47 91.86L417.03 89.25Z" fill="#ffc800"/><path d="M416.13 89.25H420.81" stroke="#ffc800" stroke-width="1.3"/>
<path d="M423.95 94.78L425.39 97.39L423.95 100.00L422.51 97.39Z" fill="#ffc800"/><path d="M421.61 97.39H426.29" stroke="#ffc800" stroke-width="1.3"/>
<path d="M429.43 100.96L430.87 103.57L429.43 106.18L427.99 103.57Z" fill="#ffc800"/><path d="M427.09 103.57H431.77" stroke="#ffc800" stroke-width="1.3"/>
<path d="M434.91 106.85L436.35 109.46L434.91 112.07L433.47 109.46Z" fill="#ffc800"/><path d="M432.57 109.46H437.25" stroke="#ffc800" stroke-width="1.3"/>
<path d="M440.39 112.18L441.83 114.79L440.39 117.40L438.95 114.79Z" fill="#ffc800"/><path d="M438.05 114.79H442.73" stroke="#ffc800" stroke-width="1.3"/>
<path d="M445.87 116.68L447.31 119.29L445.87 121.90L444.43 119.29Z" fill="#ffc800"/><path d="M443.53 119.29H448.21" stroke="#ffc800" stroke-width="1.3"/>
<path d="M451.35 121.17L452.79 123.78L451.35 126.39L449.91 123.78Z" fill="#ffc800"/><path d="M449.01 123.78H453.69" stroke="#ffc800" stroke-width="1.3"/>
<path d="M456.83 125.66L458.27 128.27L456.83 130.88L455.39 128.27Z" fill="#ffc800"/><path d="M454.49 128.27H459.17" stroke="#ffc800" stroke-width="1.3"/>
<path d="M462.31 129.59L463.75 132.20L462.31 134.81L460.87 132.20Z" fill="#ffc800"/><path d="M459.97 132.20H464.65" stroke="#ffc800" stroke-width="1.3"/>
<path d="M467.79 131.27L469.23 133.88L467.79 136.49L466.35 133.88Z" fill="#ffc800"/><path d="M465.45 133.88H470.13" stroke="#ffc800" stroke-width="1.3"/>
<path d="M473.27 132.40L474.71 135.01L473.27 137.62L471.83 135.01Z" fill="#ffc800"/><path d="M470.93 135.01H475.61" stroke="#ffc800" stroke-width="1.3"/>
<path d="M478.75 132.40L480.19 135.01L478.75 137.62L477.31 135.01Z" fill="#ffc800"/><path d="M476.41 135.01H481.09" stroke="#ffc800" stroke-width="1.3"/>
<path d="M484.23 131.83L485.67 134.44L484.23 137.05L482.79 134.44Z" fill="#ffc800"/><path d="M481.89 134.44H486.57" stroke="#ffc800" stroke-width="1.3"/>
<path d="M489.71 131.27L491.15 133.88L489.71 136.49L488.27 133.88Z" fill="#ffc800"/><path d="M487.37 133.88H492.05" stroke="#ffc800" stroke-width="1.3"/>
<path d="M495.19 130.43L496.63 133.04L495.19 135.65L493.75 133.04Z" fill="#ffc800"/><path d="M492.85 133.04H497.53" stroke="#ffc800" stroke-width="1.3"/>
<path d="M500.67 127.62L502.11 130.23L500.67 132.84L499.23 130.23Z" fill="#ffc800"/><path d="M498.33 130.23H503.01" stroke="#ffc800" stroke-width="1.3"/>
<path d="M506.15 124.54L507.59 127.15L506.15 129.76L504.71 127.15Z" fill="#ffc800"/><path d="M503.81 127.15H508.49" stroke="#ffc800" stroke-width="1.3"/>
<path d="M511.63 121.73L513.07 124.34L511.63 126.95L510.19 124.34Z" fill="#ffc800"/><path d="M509.29 124.34H513.97" stroke="#ffc800" stroke-width="1.3"/>
<path d="M517.11 119.20L518.55 121.81L517.11 124.42L515.67 121.81Z" fill="#ffc800"/><path d="M514.77 121.81H519.45" stroke="#ffc800" stroke-width="1.3"/>
<path d="M522.59 115.55L524.03 118.16L522.59 120.77L521.15 118.16Z" fill="#ffc800"/><path d="M520.25 118.16H524.93" stroke="#ffc800" stroke-width="1.3"/>
<path d="M528.07 116.11L529.51 118.72L528.07 121.33L526.63 118.72Z" fill="#ffc800"/><path d="M525.73 118.72H530.41" stroke="#ffc800" stroke-width="1.3"/>
<path d="M533.55 111.90L534.99 114.51L533.55 117.12L532.11 114.51Z" fill="#ffc800"/><path d="M531.21 114.51H535.89" stroke="#ffc800" stroke-width="1.3"/>
<path d="M539.03 109.10L540.47 111.71L539.03 114.32L537.59 111.71Z" fill="#ffc800"/><path d="M536.69 111.71H541.37" stroke="#ffc800" stroke-width="1.3"/>
<path d="M544.51 109.94L545.95 112.55L544.51 115.16L543.07 112.55Z" fill="#ffc800"/><path d="M542.17 112.55H546.85" stroke="#ffc800" stroke-width="1.3"/>
<path d="M549.99 107.41L551.43 110.02L549.99 112.63L548.55 110.02Z" fill="#ffc800"/><path d="M547.65 110.02H552.33" stroke="#ffc800" stroke-width="1.3"/>
<path d="M555.47 105.45L556.91 108.06L555.47 110.67L554.03 108.06Z" fill="#ffc800"/><path d="M553.13 108.06H557.81" stroke="#ffc800" stroke-width="1.3"/>
<path d="M560.95 105.45L562.39 108.06L560.95 110.67L559.51 108.06Z" fill="#ffc800"/><path d="M558.61 108.06H563.29" stroke="#ffc800" stroke-width="1.3"/>
<path d="M566.43 104.61L567.87 107.22L566.43 109.83L564.99 107.22Z" fill="#ffc800"/><path d="M564.09 107.22H568.77" stroke="#ffc800" stroke-width="1.3"/>
<path d="M571.91 103.20L573.35 105.81L571.91 108.42L570.47 105.81Z" fill="#ffc800"/><path d="M569.57 105.81H574.25" stroke="#ffc800" stroke-width="1.3"/>
<path d="M577.39 102.64L578.83 105.25L577.39 107.86L575.95 105.25Z" fill="#ffc800"/><path d="M575.05 105.25H579.73" stroke="#ffc800" stroke-width="1.3"/>
<path d="M582.87 102.08L584.31 104.69L582.87 107.30L581.43 104.69Z" fill="#ffc800"/><path d="M580.53 104.69H585.21" stroke="#ffc800" stroke-width="1.3"/>
<path d="M588.35 100.67L589.79 103.28L588.35 105.89L586.91 103.28Z" fill="#ffc800"/><path d="M586.01 103.28H590.69" stroke="#ffc800" stroke-width="1.3"/>
<path d="M593.83 100.39L595.27 103.00L593.83 105.61L592.39 103.00Z" fill="#ffc800"/><path d="M591.49 103.00H596.17" stroke="#ffc800" stroke-width="1.3"/>
<path d="M599.31 98.15L600.75 100.76L599.31 103.37L597.87 100.76Z" fill="#ffc800"/><path d="M596.97 100.76H601.65" stroke="#ffc800" stroke-width="1.3"/>
<path d="M604.79 103.76L606.23 106.37L604.79 108.98L603.35 106.37Z" fill="#ffc800"/><path d="M602.45 106.37H607.13" stroke="#ffc800" stroke-width="1.3"/>
<path d="M610.27 97.31L611.71 99.92L610.27 102.53L608.83 99.92Z" fill="#ffc800"/><path d="M607.93 99.92H612.61" stroke="#ffc800" stroke-width="1.3"/>
<path d="M615.75 99.55L617.19 102.16L615.75 104.77L614.31 102.16Z" fill="#ffc800"/><path d="M613.41 102.16H618.09" stroke="#ffc800" stroke-width="1.3"/>
<path d="M621.23 99.55L622.67 102.16L621.23 104.77L619.79 102.16Z" fill="#ffc800"/><path d="M618.89 102.16H623.57" stroke="#ffc800" stroke-width="1.3"/>
<path d="M626.71 97.03L628.15 99.64L626.71 102.25L625.27 99.64Z" fill="#ffc800"/><path d="M624.37 99.64H629.05" stroke="#ffc800" stroke-width="1.3"/>
<path d="M632.19 97.03L633.63 99.64L632.19 102.25L630.75 99.64Z" fill="#ffc800"/><path d="M629.85 99.64H634.53" stroke="#ffc800" stroke-width="1.3"/>
<path d="M637.67 98.15L639.11 100.76L637.67 103.37L636.23 100.76Z" fill="#ffc800"/><path d="M635.33 100.76H640.01" stroke="#ffc800" stroke-width="1.3"/>
<path d="M643.15 95.90L644.59 98.51L643.15 101.12L641.71 98.51Z" fill="#ffc800"/><path d="M640.81 98.51H645.49" stroke="#ffc800" stroke-width="1.3"/>
<path d="M648.63 93.66L650.07 96.27L648.63 98.88L647.19 96.27Z" fill="#ffc800"/><path d="M646.29 96.27H650.97" stroke="#ffc800" stroke-width="1.3"/>
<path d="M654.11 94.50L655.55 97.11L654.11 99.72L652.67 97.11Z" fill="#ffc800"/><path d="M651.77 97.11H656.45" stroke="#ffc800" stroke-width="1.3"/>
<path d="M659.59 98.15L661.03 100.76L659.59 103.37L658.15 100.76Z" fill="#ffc800"/><path d="M657.25 100.76H661.93" stroke="#ffc800" stroke-width="1.3"/>
<path d="M665.07 95.90L666.51 98.51L665.07 101.12L663.63 98.51Z" fill="#ffc800"/><path d="M662.73 98.51H667.41" stroke="#ffc800" stroke-width="1.3"/>
<path d="M670.55 96.74L671.99 99.35L670.55 101.96L669.11 99.35Z" fill="#ffc800"/><path d="M668.21 99.35H672.89" stroke="#ffc800" stroke-width="1.3"/>
<path d="M48.00 203.50v-6M48.00 7.00v6M54.85 203.50v-3M54.85 7.00v3M61.70 203.50v-3M61.70 7.00v3M68.55 203.50v-3M68.55 7.00v3M75.40 203.50v-3M75.40 7.00v3M82.25 203.50v-6M82.25 7.00v6M89.10 203.50v-3M89.10 7.00v3M95.95 203.50v-3M95.95 7.00v3M102.80 203.50v-3M102.80 7.00v3M109.65 203.50v-3M109.65 7.00v3M116.50 203.50v-6M116.50 7.00v6M123.35 203.50v-3M123.35 7.00v3M130.20 203.50v-3M130.20 7.00v3M137.05 203.50v-3M137.05 7.00v3M143.90 203.50v-3M143.90 7.00v3M150.75 203.50v-6M150.75 7.00v6M157.60 203.50v-3M157.60 7.00v3M164.45 203.50v-3M164.45 7.00v3M171.30 203.50v-3M171.30 7.00v3M178.15 203.50v-3M178.15 7.00v3M185.00 203.50v-6M185.00 7.00v6M191.85 203.50v-3M191.85 7.00v3M198.70 203.50v-3M198.70 7.00v3M205.55 203.50v-3M205.55 7.00v3M212.40 203.50v-3M212.40 7.00v3M219.25 203.50v-6M219.25 7.00v6M226.10 203.50v-3M226.10 7.00v3M232.95 203.50v-3M232.95 7.00v3M239.80 203.50v-3M239.80 7.00v3M246.65 203.50v-3M246.65 7.00v3M253.50 203.50v-6M253.50 7.00v6M260.35 203.50v-3M260.35 7.00v3M267.20 203.50v-3M267.20 7.00v3M274.05 203.50v-3M274.05 7.00v3M280.90 203.50v-3M280.90 7.00v3M287.75 203.50v-6M287.75 7.00v6M294.60 203.50v-3M294.60 7.00v3M301.45 203.50v-3M301.45 7.00v3M308.30 203.50v-3M308.30 7.00v3M315.15 203.50v-3M315.15 7.00v3M322.00 203.50v-6M322.00 7.00v6M48.00 203.50h8M322.00 203.50h-8M48.00 197.89h4M322.00 197.89h-4M48.00 192.27h4M322.00 192.27h-4M48.00 186.66h4M322.00 186.66h-4M48.00 181.04h4M322.00 181.04h-4M48.00 175.43h8M322.00 175.43h-8M48.00 169.81h4M322.00 169.81h-4M48.00 164.20h4M322.00 164.20h-4M48.00 158.59h4M322.00 158.59h-4M48.00 152.97h4M322.00 152.97h-4M48.00 147.36h8M322.00 147.36h-8M48.00 141.74h4M322.00 141.74h-4M48.00 136.13h4M322.00 136.13h-4M48.00 130.51h4M322.00 130.51h-4M48.00 124.90h4M322.00 124.90h-4M48.00 119.29h8M322.00 119.29h-8M48.00 113.67h4M322.00 113.67h-4M48.00 108.06h4M322.00 108.06h-4M48.00 102.44h4M322.00 102.44h-4M48.00 96.83h4M322.00 96.83h-4M48.00 91.21h8M322.00 91.21h-8M48.00 85.60h4M322.00 85.60h-4M48.00 79.99h4M322.00 79.99h-4M48.00 74.37h4M322.00 74.37h-4M48.00 68.76h4M322.00 68.76h-4M48.00 63.14h8M322.00 63.14h-8M48.00 57.53h4M322.00 57.53h-4M48.00 51.91h4M322.00 51.91h-4M48.00 46.30h4M322.00 46.30h-4M48.00 40.69h4M322.00 40.69h-4M48.00 35.07h8M322.00 35.07h-8M48.00 29.46h4M322.00 29.46h-4M48.00 23.84h4M322.00 23.84h-4M48.00 18.23h4M322.00 18.23h-4M48.00 12.61h4M322.00 12.61h-4M48.00 7.00h8M322.00 7.00h-8" stroke="#000" stroke-width="1" fill="none"/>
<rect x="48.00" y="7.00" width="274.00" height="196.50" fill="none" stroke="#000" stroke-width="1.1"/>
<path d="M399.70 203.50v-6M399.70 7.00v6M405.18 203.50v-3M405.18 7.00v3M410.66 203.50v-3M410.66 7.00v3M416.14 203.50v-3M416.14 7.00v3M421.62 203.50v-3M421.62 7.00v3M427.10 203.50v-6M427.10 7.00v6M432.58 203.50v-3M432.58 7.00v3M438.06 203.50v-3M438.06 7.00v3M443.54 203.50v-3M443.54 7.00v3M449.02 203.50v-3M449.02 7.00v3M454.50 203.50v-6M454.50 7.00v6M459.98 203.50v-3M459.98 7.00v3M465.46 203.50v-3M465.46 7.00v3M470.94 203.50v-3M470.94 7.00v3M476.42 203.50v-3M476.42 7.00v3M481.90 203.50v-6M481.90 7.00v6M487.38 203.50v-3M487.38 7.00v3M492.86 203.50v-3M492.86 7.00v3M498.34 203.50v-3M498.34 7.00v3M503.82 203.50v-3M503.82 7.00v3M509.30 203.50v-6M509.30 7.00v6M514.78 203.50v-3M514.78 7.00v3M520.26 203.50v-3M520.26 7.00v3M525.74 203.50v-3M525.74 7.00v3M531.22 203.50v-3M531.22 7.00v3M536.70 203.50v-6M536.70 7.00v6M542.18 203.50v-3M542.18 7.00v3M547.66 203.50v-3M547.66 7.00v3M553.14 203.50v-3M553.14 7.00v3M558.62 203.50v-3M558.62 7.00v3M564.10 203.50v-6M564.10 7.00v6M569.58 203.50v-3M569.58 7.00v3M575.06 203.50v-3M575.06 7.00v3M580.54 203.50v-3M580.54 7.00v3M586.02 203.50v-3M586.02 7.00v3M591.50 203.50v-6M591.50 7.00v6M596.98 203.50v-3M596.98 7.00v3M602.46 203.50v-3M602.46 7.00v3M607.94 203.50v-3M607.94 7.00v3M613.42 203.50v-3M613.42 7.00v3M618.90 203.50v-6M618.90 7.00v6M624.38 203.50v-3M624.38 7.00v3M629.86 203.50v-3M629.86 7.00v3M635.34 203.50v-3M635.34 7.00v3M640.82 203.50v-3M640.82 7.00v3M646.30 203.50v-6M646.30 7.00v6M651.78 203.50v-3M651.78 7.00v3M657.26 203.50v-3M657.26 7.00v3M662.74 203.50v-3M662.74 7.00v3M668.22 203.50v-3M668.22 7.00v3M673.70 203.50v-6M673.70 7.00v6M399.70 203.50h8M673.70 203.50h-8M399.70 197.89h4M673.70 197.89h-4M399.70 192.27h4M673.70 192.27h-4M399.70 186.66h4M673.70 186.66h-4M399.70 181.04h4M673.70 181.04h-4M399.70 175.43h8M673.70 175.43h-8M399.70 169.81h4M673.70 169.81h-4M399.70 164.20h4M673.70 164.20h-4M399.70 158.59h4M673.70 158.59h-4M399.70 152.97h4M673.70 152.97h-4M399.70 147.36h8M673.70 147.36h-8M399.70 141.74h4M673.70 141.74h-4M399.70 136.13h4M673.70 136.13h-4M399.70 130.51h4M673.70 130.51h-4M399.70 124.90h4M673.70 124.90h-4M399.70 119.29h8M673.70 119.29h-8M399.70 113.67h4M673.70 113.67h-4M399.70 108.06h4M673.70 108.06h-4M399.70 102.44h4M673.70 102.44h-4M399.70 96.83h4M673.70 96.83h-4M399.70 91.21h8M673.70 91.21h-8M399.70 85.60h4M673.70 85.60h-4M399.70 79.99h4M673.70 79.99h-4M399.70 74.37h4M673.70 74.37h-4M399.70 68.76h4M673.70 68.76h-4M399.70 63.14h8M673.70 63.14h-8M399.70 57.53h4M673.70 57.53h-4M399.70 51.91h4M673.70 51.91h-4M399.70 46.30h4M673.70 46.30h-4M399.70 40.69h4M673.70 40.69h-4M399.70 35.07h8M673.70 35.07h-8M399.70 29.46h4M673.70 29.46h-4M399.70 23.84h4M673.70 23.84h-4M399.70 18.23h4M673.70 18.23h-4M399.70 12.61h4M673.70 12.61h-4M399.70 7.00h8M673.70 7.00h-8" stroke="#000" stroke-width="1" fill="none"/>
<rect x="399.70" y="7.00" width="274.00" height="196.50" fill="none" stroke="#000" stroke-width="1.1"/>
<g fill="#222"><text x="46.6" y="208.00" font-size="12" text-anchor="end" font-weight="normal" font-style="normal" font-family='"Liberation Sans", sans-serif' >0</text><text x="46.6" y="179.93" font-size="12" text-anchor="end" font-weight="normal" font-style="normal" font-family='"Liberation Sans", sans-serif' >5</text><text x="46.6" y="151.86" font-size="12" text-anchor="end" font-weight="normal" font-style="normal" font-family='"Liberation Sans", sans-serif' >10</text><text x="46.6" y="123.79" font-size="12" text-anchor="end" font-weight="normal" font-style="normal" font-family='"Liberation Sans", sans-serif' >15</text><text x="46.6" y="95.71" font-size="12" text-anchor="end" font-weight="normal" font-style="normal" font-family='"Liberation Sans", sans-serif' >20</text><text x="46.6" y="67.64" font-size="12" text-anchor="end" font-weight="normal" font-style="normal" font-family='"Liberation Sans", sans-serif' >25</text><text x="46.6" y="39.57" font-size="12" text-anchor="end" font-weight="normal" font-style="normal" font-family='"Liberation Sans", sans-serif' >30</text><text x="46.6" y="11.50" font-size="12" text-anchor="end" font-weight="normal" font-style="normal" font-family='"Liberation Sans", sans-serif' >35</text><text x="48.00" y="214.6" font-size="12" text-anchor="middle" font-weight="normal" font-style="normal" font-family='"Liberation Sans", sans-serif' >0</text><text x="82.25" y="214.6" font-size="12" text-anchor="middle" font-weight="normal" font-style="normal" font-family='"Liberation Sans", sans-serif' >5</text><text x="116.50" y="214.6" font-size="12" text-anchor="middle" font-weight="normal" font-style="normal" font-family='"Liberation Sans", sans-serif' >10</text><text x="150.75" y="214.6" font-size="12" text-anchor="middle" font-weight="normal" font-style="normal" font-family='"Liberation Sans", sans-serif' >15</text><text x="185.00" y="214.6" font-size="12" text-anchor="middle" font-weight="normal" font-style="normal" font-family='"Liberation Sans", sans-serif' >20</text><text x="219.25" y="214.6" font-size="12" text-anchor="middle" font-weight="normal" font-style="normal" font-family='"Liberation Sans", sans-serif' >25</text><text x="253.50" y="214.6" font-size="12" text-anchor="middle" font-weight="normal" font-style="normal" font-family='"Liberation Sans", sans-serif' >30</text><text x="287.75" y="214.6" font-size="12" text-anchor="middle" font-weight="normal" font-style="normal" font-family='"Liberation Sans", sans-serif' >35</text><text x="322.00" y="214.6" font-size="12" text-anchor="middle" font-weight="normal" font-style="normal" font-family='"Liberation Sans", sans-serif' >40</text><text x="398.6" y="208.00" font-size="12" text-anchor="end" font-weight="normal" font-style="normal" font-family='"Liberation Sans", sans-serif' >–25</text><text x="398.6" y="179.93" font-size="12" text-anchor="end" font-weight="normal" font-style="normal" font-family='"Liberation Sans", sans-serif' >–20</text><text x="398.6" y="151.86" font-size="12" text-anchor="end" font-weight="normal" font-style="normal" font-family='"Liberation Sans", sans-serif' >–15</text><text x="398.6" y="123.79" font-size="12" text-anchor="end" font-weight="normal" font-style="normal" font-family='"Liberation Sans", sans-serif' >–10</text><text x="398.6" y="95.71" font-size="12" text-anchor="end" font-weight="normal" font-style="normal" font-family='"Liberation Sans", sans-serif' >–5</text><text x="398.6" y="67.64" font-size="12" text-anchor="end" font-weight="normal" font-style="normal" font-family='"Liberation Sans", sans-serif' >0</text><text x="398.6" y="39.57" font-size="12" text-anchor="end" font-weight="normal" font-style="normal" font-family='"Liberation Sans", sans-serif' >5</text><text x="398.6" y="11.50" font-size="12" text-anchor="end" font-weight="normal" font-style="normal" font-family='"Liberation Sans", sans-serif' >10</text><text x="399.70" y="214.6" font-size="12" text-anchor="middle" font-weight="normal" font-style="normal" font-family='"Liberation Sans", sans-serif' >0</text><text x="427.10" y="214.6" font-size="12" text-anchor="middle" font-weight="normal" font-style="normal" font-family='"Liberation Sans", sans-serif' >10</text><text x="454.50" y="214.6" font-size="12" text-anchor="middle" font-weight="normal" font-style="normal" font-family='"Liberation Sans", sans-serif' >20</text><text x="481.90" y="214.6" font-size="12" text-anchor="middle" font-weight="normal" font-style="normal" font-family='"Liberation Sans", sans-serif' >30</text><text x="509.30" y="214.6" font-size="12" text-anchor="middle" font-weight="normal" font-style="normal" font-family='"Liberation Sans", sans-serif' >40</text><text x="536.70" y="214.6" font-size="12" text-anchor="middle" font-weight="normal" font-style="normal" font-family='"Liberation Sans", sans-serif' >50</text><text x="564.10" y="214.6" font-size="12" text-anchor="middle" font-weight="normal" font-style="normal" font-family='"Liberation Sans", sans-serif' >60</text><text x="591.50" y="214.6" font-size="12" text-anchor="middle" font-weight="normal" font-style="normal" font-family='"Liberation Sans", sans-serif' >70</text><text x="618.90" y="214.6" font-size="12" text-anchor="middle" font-weight="normal" font-style="normal" font-family='"Liberation Sans", sans-serif' >80</text><text x="646.30" y="214.6" font-size="12" text-anchor="middle" font-weight="normal" font-style="normal" font-family='"Liberation Sans", sans-serif' >90</text><text x="673.70" y="214.6" font-size="12" text-anchor="middle" font-weight="normal" font-style="normal" font-family='"Liberation Sans", sans-serif' >100</text></g>
<text x="323" y="232.2" font-size="11.6" text-anchor="end" font-weight="normal" font-style="normal" font-family='"Liberation Sans", sans-serif' fill="#222">Number of Reconstructed Vertices (N<tspan font-size="8.2" dy="5">PV</tspan><tspan dy="-5">)</tspan></text>
<text x="675.3" y="233" font-size="12" text-anchor="end" font-weight="normal" font-style="normal" font-family='"Liberation Sans", sans-serif' fill="#222">p<tspan font-size="8" dx="-0.6" dy="-3.8">Z</tspan><tspan font-size="8" dx="-5.8" dy="9.8">T</tspan><tspan dy="-6.0" dx="2.6">[GeV]</tspan></text>
<g transform="translate(11.7,121.5) rotate(-90)" fill="#222"><text x="0" y="0" font-size="12" text-anchor="start" font-weight="normal" font-style="normal" font-family='"Liberation Sans", sans-serif' >E<tspan font-size="8" dy="3">x</tspan><tspan font-size="8" dx="-4.2" dy="-9.5">miss</tspan><tspan dy="6.5">,</tspan>E<tspan font-size="8" dy="3">y</tspan><tspan font-size="8" dx="-4.2" dy="-9.5">miss</tspan><tspan dy="6.5"> RMS [GeV]</tspan></text></g>
<g transform="translate(364,118) rotate(-90)" fill="#222"><text x="0" y="0" font-size="12" text-anchor="start" font-weight="normal" font-style="normal" font-family='"Liberation Sans", sans-serif' >TST</text><path d="M29.6 -9.4L25.6 -5.2L29.6 -1.0" fill="none" stroke="#222" stroke-width="0.95"/><text x="30.0" y="0" font-size="11.2" text-anchor="start" font-weight="bold" font-style="normal" font-family='"Liberation Sans", sans-serif' >E</text><text x="38.7" y="5.6" font-size="8" text-anchor="start" font-weight="normal" font-style="normal" font-family='"Liberation Sans", sans-serif' >T</text><text x="38.2" y="-6.8" font-size="8" text-anchor="start" font-weight="normal" font-style="normal" font-family='"Liberation Sans", sans-serif' >miss</text><text x="54.5" y="0" font-size="12" text-anchor="start" font-weight="normal" font-style="normal" font-family='"Liberation Sans", sans-serif' >·</text><text x="62.0" y="0" font-size="10.5" text-anchor="start" font-weight="bold" font-style="normal" font-family='"Liberation Sans", sans-serif' >A</text><path d="M62.6 -7.9L65.2 -9.9L67.8 -7.9" fill="none" stroke="#222" stroke-width="0.95"/><text x="69.2" y="6.4" font-size="8" text-anchor="start" font-weight="normal" font-style="normal" font-family='"Liberation Sans", sans-serif' >Z</text><path d="M76.0 -9.4L80.0 -5.2L76.0 -1.0" fill="none" stroke="#222" stroke-width="0.95"/><text x="82.2" y="0" font-size="12" text-anchor="start" font-weight="normal" font-style="normal" font-family='"Liberation Sans", sans-serif' >[GeV]</text></g>
<text x="62.5" y="23.6" font-size="12.5" text-anchor="start" font-weight="bold" font-style="italic" font-family='"Liberation Sans", sans-serif' >ATLAS</text>
<text x="114.8" y="23.6" font-size="13" text-anchor="start" font-weight="normal" font-style="normal" font-family='"Liberation Sans", sans-serif' fill="#111">Simulation</text>
<path d="M62.30 35.2L63.40 34.6L64.70 38.6L65.80 31.0H71.50" fill="none" stroke="#222" stroke-width="0.9"/>
<path d="M63.40 34.6L64.70 38.6" fill="none" stroke="#222" stroke-width="1.4"/>
<text x="66.3" y="38.4" font-size="9.3" text-anchor="start" font-weight="normal" font-style="normal" font-family='"Liberation Sans", sans-serif' fill="#222">s = 8 TeV, Jet JVF &gt; 0.25</text>
<text x="62.5" y="51.4" font-size="9.3" text-anchor="start" font-weight="normal" font-style="normal" font-family='"Liberation Sans", sans-serif' fill="#222">Z</text>
<path d="M68.10 48.3H75.10M72.90 46.6L75.30 48.3L72.90 50.0" fill="none" stroke="#222" stroke-width="0.8"/>
<text x="76.8" y="51.4" font-size="9.3" text-anchor="start" font-weight="normal" font-style="normal" font-family='"Liberation Sans", sans-serif' fill="#222">μμ Inclusive</text>
<text x="413.0" y="23.6" font-size="12.5" text-anchor="start" font-weight="bold" font-style="italic" font-family='"Liberation Sans", sans-serif' >ATLAS</text>
<text x="465.3" y="23.6" font-size="13" text-anchor="start" font-weight="normal" font-style="normal" font-family='"Liberation Sans", sans-serif' fill="#111">Simulation</text>
<path d="M412.80 35.2L413.90 34.6L415.20 38.6L416.30 31.0H422.00" fill="none" stroke="#222" stroke-width="0.9"/>
<path d="M413.90 34.6L415.20 38.6" fill="none" stroke="#222" stroke-width="1.4"/>
<text x="416.8" y="38.4" font-size="9.3" text-anchor="start" font-weight="normal" font-style="normal" font-family='"Liberation Sans", sans-serif' fill="#222">s = 8 TeV, JVF &gt; 0.25</text>
<text x="413.0" y="51.4" font-size="9.3" text-anchor="start" font-weight="normal" font-style="normal" font-family='"Liberation Sans", sans-serif' fill="#222">Z</text>
<path d="M418.60 48.3H425.60M423.40 46.6L425.80 48.3L423.40 50.0" fill="none" stroke="#222" stroke-width="0.8"/>
<text x="427.3" y="51.4" font-size="9.3" text-anchor="start" font-weight="normal" font-style="normal" font-family='"Liberation Sans", sans-serif' fill="#222">μμ Inclusive</text>
<path d="M60.8 72.5H84.8" stroke="#000000" stroke-width="1.25"/>
<rect x="70.96" y="70.66" width="3.68" height="3.68" fill="#000000"/>
<text x="90" y="75.4" font-size="8.8" text-anchor="start" font-weight="bold" font-style="normal" font-family='"Liberation Sans", sans-serif' fill="#111" stroke="#111" stroke-width="0.2">Jet P<tspan font-size="5.6" dx="1.0" dy="3.2">T</tspan><tspan dx="0.3" dy="-3.2"> &gt; 20 GeV</tspan></text>
<path d="M60.8 85.4H84.8" stroke="#0a980a" stroke-width="1.25"/>
<circle cx="72.80" cy="85.40" r="2.08" fill="#0a980a"/>
<text x="90" y="88.30000000000001" font-size="8.8" text-anchor="start" font-weight="bold" font-style="normal" font-family='"Liberation Sans", sans-serif' fill="#111" stroke="#111" stroke-width="0.2">Jet P<tspan font-size="5.6" dx="1.0" dy="3.2">T</tspan><tspan dx="0.3" dy="-3.2"> &gt; 25 GeV</tspan></text>
<path d="M60.8 97.4H84.8" stroke="#ff1414" stroke-width="1.25"/>
<path d="M70.72 96.15L74.88 96.15L72.80 99.48Z" fill="#ff1414"/>
<text x="90" y="100.30000000000001" font-size="8.8" text-anchor="start" font-weight="bold" font-style="normal" font-family='"Liberation Sans", sans-serif' fill="#111" stroke="#111" stroke-width="0.2">Jet P<tspan font-size="5.6" dx="1.0" dy="3.2">T</tspan><tspan dx="0.3" dy="-3.2"> &gt; 30 GeV</tspan></text>
<path d="M60.8 110.2H84.8" stroke="#ffc800" stroke-width="1.25"/>
<path d="M72.80 107.88L74.08 110.20L72.80 112.52L71.52 110.20Z" fill="#ffc800"/><path d="M70.72 110.20H74.88" stroke="#ffc800" stroke-width="1.3"/>
<text x="90" y="113.10000000000001" font-size="8.8" text-anchor="start" font-weight="bold" font-style="normal" font-family='"Liberation Sans", sans-serif' fill="#111" stroke="#111" stroke-width="0.2">Jet P<tspan font-size="5.6" dx="1.0" dy="3.2">T</tspan><tspan dx="0.3" dy="-3.2"> &gt; 35 GeV</tspan></text>
<path d="M521.8 139.1H545.8" stroke="#000000" stroke-width="1.25"/>
<rect x="531.96" y="137.26" width="3.68" height="3.68" fill="#000000"/>
<text x="551.6" y="141.2" font-size="8.8" text-anchor="start" font-weight="bold" font-style="normal" font-family='"Liberation Sans", sans-serif' fill="#111" stroke="#111" stroke-width="0.2">Jet P<tspan font-size="5.6" dx="1.0" dy="3.2">T</tspan><tspan dx="0.3" dy="-3.2"> &gt; 20 GeV</tspan></text>
<path d="M521.8 151.0H545.8" stroke="#0a980a" stroke-width="1.25"/>
<circle cx="533.80" cy="151.00" r="2.08" fill="#0a980a"/>
<text x="551.6" y="153.1" font-size="8.8" text-anchor="start" font-weight="bold" font-style="normal" font-family='"Liberation Sans", sans-serif' fill="#111" stroke="#111" stroke-width="0.2">Jet P<tspan font-size="5.6" dx="1.0" dy="3.2">T</tspan><tspan dx="0.3" dy="-3.2"> &gt; 25 GeV</tspan></text>
<path d="M521.8 163.2H545.8" stroke="#ff1414" stroke-width="1.25"/>
<path d="M531.72 161.95L535.88 161.95L533.80 165.28Z" fill="#ff1414"/>
<text x="551.6" y="165.29999999999998" font-size="8.8" text-anchor="start" font-weight="bold" font-style="normal" font-family='"Liberation Sans", sans-serif' fill="#111" stroke="#111" stroke-width="0.2">Jet P<tspan font-size="5.6" dx="1.0" dy="3.2">T</tspan><tspan dx="0.3" dy="-3.2"> &gt; 30 GeV</tspan></text>
<path d="M521.8 175.8H545.8" stroke="#ffc800" stroke-width="1.25"/>
<path d="M533.80 173.48L535.08 175.80L533.80 178.12L532.52 175.80Z" fill="#ffc800"/><path d="M531.72 175.80H535.88" stroke="#ffc800" stroke-width="1.3"/>
<text x="551.6" y="177.9" font-size="8.8" text-anchor="start" font-weight="bold" font-style="normal" font-family='"Liberation Sans", sans-serif' fill="#111" stroke="#111" stroke-width="0.2">Jet P<tspan font-size="5.6" dx="1.0" dy="3.2">T</tspan><tspan dx="0.3" dy="-3.2"> &gt; 35 GeV</tspan></text>
<text x="184.4" y="252.2" font-size="15" text-anchor="middle" font-weight="bold" font-style="normal" font-family='"Liberation Serif", serif' >(a)</text>
<text x="537" y="252.2" font-size="15" text-anchor="middle" font-weight="bold" font-style="normal" font-family='"Liberation Serif", serif' >(b)</text>
</svg>
</body></html>
